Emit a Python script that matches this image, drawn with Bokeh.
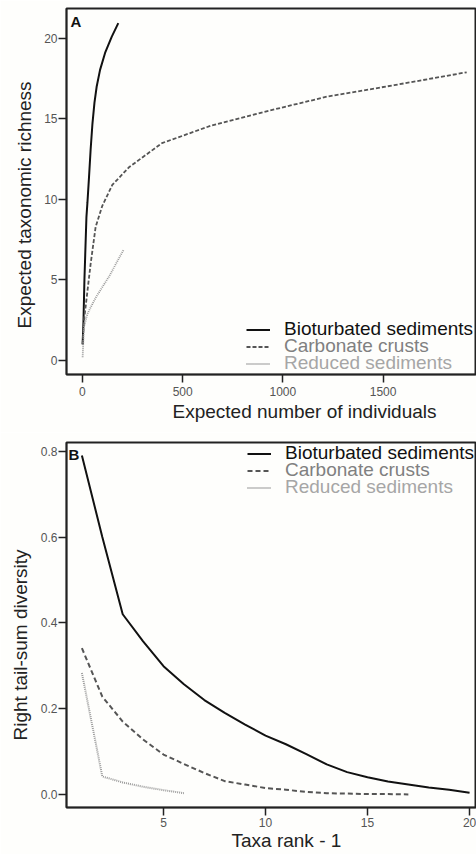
from bokeh.plotting import figure
from bokeh.models import (Range1d, FixedTicker, Legend, LegendItem, Label, Title,
                          PrintfTickFormatter)
from bokeh.layouts import column
from bokeh.embed import file_html
from bokeh.resources import INLINE

# ---------------- Panel A data (rarefaction) ----------------
bio_n = [1, 5, 10, 20, 25, 33, 41, 50, 60, 71, 88, 113, 146, 179]
bio_s = [1.0, 2.3, 5.0, 8.9, 9.8, 11.4, 13.1, 14.7, 16.0, 17.0, 18.05, 19.1, 20.1, 20.95]
carb_n = [1, 8, 25, 41, 66, 99, 149, 232, 397, 645, 894, 1225, 1556, 1917]
carb_s = [1.0, 2.5, 4.3, 6.0, 8.3, 9.6, 10.9, 12.0, 13.5, 14.6, 15.4, 16.4, 17.1, 17.9]
red_n = [1, 8, 25, 66, 132, 207]
red_s = [0.2, 2.1, 2.9, 3.9, 5.2, 6.9]

a_xticks = [0, 500, 1000, 1500, 2000]
a_yticks = [0, 5, 10, 15, 20]

# ---------------- Panel B data (right tail-sum) ----------------
bio_rank = list(range(1, 21))
bio_tail = [0.79, 0.60, 0.42, 0.357, 0.299, 0.257, 0.22, 0.19, 0.163, 0.137,
            0.117, 0.094, 0.07, 0.052, 0.04, 0.03, 0.023, 0.016, 0.011, 0.004]
carb_rank = list(range(1, 18))
carb_tail = [0.341, 0.228, 0.17, 0.128, 0.093, 0.071, 0.05, 0.031, 0.023, 0.015,
             0.011, 0.006, 0.003, 0.002, 0.001, 0.001, 0.0]
red_rank = list(range(1, 7))
red_tail = [0.283, 0.042, 0.028, 0.018, 0.01, 0.003]

b_xticks = [5, 10, 15, 20]
b_yticks = [0.0, 0.2, 0.4, 0.6, 0.8]

series_names = ["Bioturbated sediments", "Carbonate crusts", "Reduced sediments"]

FONT = "Liberation Sans"
C_BIO = "#111111"
C_CARB = "#555555"
C_RED = "#999999"
TXT_COL = ["#111111", "#808080", "#a6a6a6"]


def style(p, label_standoff):
    p.background_fill_color = "#fefefc"
    p.border_fill_color = "#fefefc"
    p.outline_line_color = "#222222"
    p.outline_line_width = 2
    p.xgrid.visible = False
    p.ygrid.visible = False
    for ax in (p.xaxis[0], p.yaxis[0]):
        ax.axis_line_color = "#222222"
        ax.axis_line_width = 1.5
        ax.major_tick_line_color = "#222222"
        ax.major_tick_line_width = 1.5
        ax.major_tick_in = 0
        ax.major_tick_out = 8
        ax.minor_tick_line_color = None
        ax.major_label_text_font = FONT
        ax.major_label_text_font_size = "12px"
        ax.major_label_text_color = "#555555"
        ax.axis_label = None
    p.xaxis[0].major_label_standoff = label_standoff
    p.yaxis[0].major_label_standoff = 1


def add_legends(p, renderers, x0, bottoms):
    for r, name, col, b in zip(renderers, series_names, TXT_COL, bottoms):
        lg = Legend(items=[LegendItem(label=name, renderers=[r])],
                    location=(x0, b), padding=0, margin=0, spacing=0,
                    glyph_width=24, glyph_height=17, label_height=17,
                    label_standoff=14, label_text_font=FONT,
                    label_text_font_size="19px", label_text_color=col,
                    border_line_color=None, background_fill_alpha=0)
        p.add_layout(lg, "center")


def axis_title(text, side_offset, standoff):
    return Title(text=text, align="left", offset=side_offset, standoff=standoff,
                 vertical_align="top", text_font=FONT, text_font_size="19px",
                 text_font_style="normal", text_color="#222222")


# ---------------- Panel A ----------------
ax0, ax1, ay0, ay1 = -79.4, 1966, -0.87, 21.86
pa = figure(width=476, height=432, output_backend="svg", toolbar_location=None,
            x_range=Range1d(ax0, ax1), y_range=Range1d(ay0, ay1),
            min_border_left=64, min_border_right=0, min_border_top=8,
            min_border_bottom=58)
style(pa, 4)
pa.xaxis[0].ticker = FixedTicker(ticks=a_xticks)
pa.yaxis[0].ticker = FixedTicker(ticks=a_yticks)

ra1 = pa.line(bio_n, bio_s, line_color=C_BIO, line_width=2)
ra2 = pa.line(carb_n, carb_s, line_color=C_CARB, line_width=1.8, line_dash="4 2")
ra3 = pa.line(red_n, red_s, line_color=C_RED, line_width=1.8, line_dash="1 1")
add_legends(pa, [ra1, ra2, ra3], 180, [34, 17, 0])

pa.add_layout(Label(x=ax0, y=ay1, x_offset=4, y_offset=-4, text="A",
                    text_font=FONT, text_font_size="15px", text_font_style="bold",
                    text_align="left", text_baseline="top", text_color="#111111"))
pa.add_layout(axis_title("Expected number of individuals", 106, 4), "below")
pa.add_layout(axis_title("Expected taxonomic richness", 46, 10), "left")

# ---------------- Panel B ----------------
bx0, bx1, by0, by1 = 0.245, 20.34, -0.0304, 0.8203
pb = figure(width=476, height=422, output_backend="svg", toolbar_location=None,
            x_range=Range1d(bx0, bx1), y_range=Range1d(by0, by1),
            min_border_left=66, min_border_right=0, min_border_top=10,
            min_border_bottom=47)
style(pb, 2)
pb.xaxis[0].ticker = FixedTicker(ticks=b_xticks)
pb.yaxis[0].ticker = FixedTicker(ticks=b_yticks)
pb.yaxis[0].formatter = PrintfTickFormatter(format="%.1f")

rb1 = pb.line(bio_rank, bio_tail, line_color=C_BIO, line_width=2)
rb2 = pb.line(carb_rank, carb_tail, line_color=C_CARB, line_width=2, line_dash="5 3")
rb3 = pb.line(red_rank, red_tail, line_color=C_RED, line_width=2, line_dash="1 1")
add_legends(pb, [rb1, rb2, rb3], 181, [343, 326, 309])

pb.add_layout(Label(x=bx0, y=by1, x_offset=2, y_offset=-3, text="B",
                    text_font=FONT, text_font_size="15px", text_font_style="bold",
                    text_align="left", text_baseline="top", text_color="#111111"))
pb.add_layout(axis_title("Taxa rank - 1", 165, 0), "below")
pb.add_layout(axis_title("Right tail-sum diversity", 67, 10), "left")

layout = column(pa, pb, spacing=0)
open("out.html", "w").write(file_html(layout, INLINE))
